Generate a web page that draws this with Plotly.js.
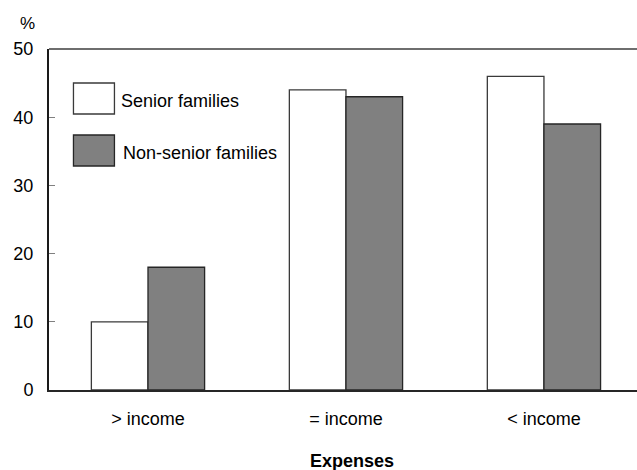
<!DOCTYPE html>
<html>
<head>
<meta charset="utf-8">
<script src="https://cdn.plot.ly/plotly-3.0.1.min.js"></script>
<style>
  html, body { margin: 0; padding: 0; background: #fff; }
  #chart { width: 637px; height: 470px; }
</style>
</head>
<body>
<div id="chart"></div>
<script>
// Share of families by how expenses compare with income
const categories = ['> income', '= income', '< income'];
const seniorFamilies = [10, 44, 46];
const nonSeniorFamilies = [18, 43, 39];
const seriesNames = ['Senior families', 'Non-senior families'];
const yTicks = [0, 10, 20, 30, 40, 50];

const FONT = 'Liberation Sans, Arial, sans-serif';
const escapeHtml = s => s.replace(/&/g, '&amp;').replace(/</g, '&lt;').replace(/>/g, '&gt;');
const xIdx = categories.map((_, i) => i);

const traces = [
  {
    type: 'bar', name: seriesNames[0], x: xIdx, y: seniorFamilies,
    marker: { color: '#ffffff', line: { color: '#3a3a3a', width: 1.3 } },
    hoverinfo: 'skip'
  },
  {
    type: 'bar', name: seriesNames[1], x: xIdx, y: nonSeniorFamilies,
    marker: { color: '#808080', line: { color: '#262626', width: 1.3 } },
    hoverinfo: 'skip'
  }
];

// Hand-drawn legend: large swatches with labels to their right
const swatches = [
  { fill: '#ffffff', line: '#3a3a3a', y0: 0.8094, y1: 0.9003, labelY: 0.8475, labelX: 0.1195 },
  { fill: '#808080', line: '#262626', y0: 0.6569, y1: 0.7478, labelY: 0.695, labelX: 0.122 }
];

const shapes = [
  // top frame line
  { type: 'line', xref: 'paper', yref: 'paper', x0: 0, x1: 1, y0: 1, y1: 1,
    line: { color: '#6e6e6e', width: 2 } }
].concat(swatches.map(s => ({
  type: 'rect', xref: 'paper', yref: 'paper',
  x0: 0.0416, x1: 0.1113, y0: s.y0, y1: s.y1,
  fillcolor: s.fill, line: { color: s.line, width: 1.3 }
})));

const annotations = swatches.map((s, i) => ({
  xref: 'paper', yref: 'paper', x: s.labelX, y: s.labelY,
  xanchor: 'left', yanchor: 'middle', showarrow: false,
  text: seriesNames[i], font: { family: FONT, size: 18, color: '#000' }
})).concat([
  { xref: 'paper', yref: 'paper', x: -0.0365, y: 1.076, xanchor: 'center', yanchor: 'middle',
    showarrow: false, text: '%', font: { family: FONT, size: 17, color: '#000' } },
  { xref: 'paper', yref: 'paper', x: 0.516, y: -0.208, xanchor: 'center', yanchor: 'middle',
    showarrow: false, text: '<b>Expenses</b>', font: { family: FONT, size: 18, color: '#000' } }
]);

const layout = {
  width: 637, height: 470,
  margin: { l: 48.5, r: 0, t: 49, b: 80, pad: 0 },
  paper_bgcolor: '#fff', plot_bgcolor: '#fff',
  barmode: 'group', bargap: 0.428, bargroupgap: 0,
  showlegend: false,
  font: { family: FONT, size: 18, color: '#000' },
  xaxis: {
    range: [-0.5, 2.47], tickvals: xIdx, ticktext: categories.map(escapeHtml),
    showgrid: false, zeroline: false, ticks: '',
    showline: true, linecolor: '#262626', linewidth: 2,
    ticklabelstandoff: 11,
    tickfont: { family: FONT, size: 18, color: '#000' }
  },
  yaxis: {
    range: [0, 50], tickvals: yTicks, ticktext: yTicks.map(String),
    showgrid: false, zeroline: false,
    ticks: 'inside', ticklen: 6, tickwidth: 1, tickcolor: '#808080',
    showline: true, linecolor: '#1a1a1a', linewidth: 2,
    ticklabelstandoff: 10,
    tickfont: { family: FONT, size: 18, color: '#000' }
  },
  shapes: shapes,
  annotations: annotations
};

Plotly.newPlot('chart', traces, layout, { staticPlot: true, displayModeBar: false });
</script>
</body>
</html>
